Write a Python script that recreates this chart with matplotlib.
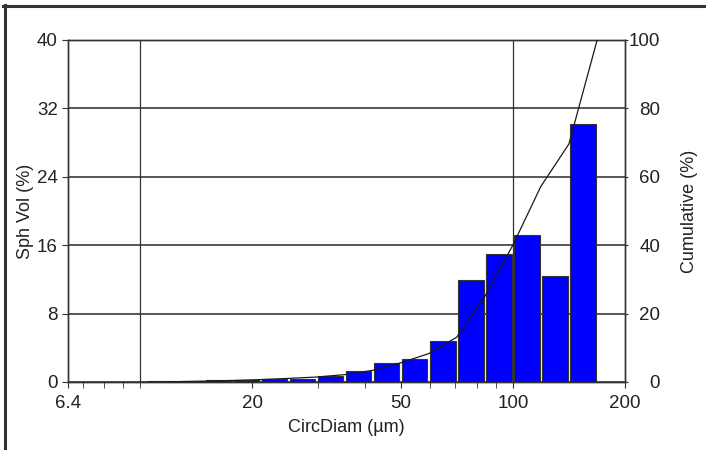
import numpy as np
import matplotlib
matplotlib.use("Agg")
import matplotlib.pyplot as plt
from matplotlib.lines import Line2D
from matplotlib.ticker import NullFormatter

plt.rcParams['font.family'] = ['Liberation Sans', 'DejaVu Sans']

# bin edges (um) and spherical volume per bin (%)
bin_edges = [10.51, 12.5, 14.87, 17.68, 21.02, 25.0, 29.73, 35.36, 42.04,
             50.0, 59.46, 70.71, 84.09, 100.0, 118.92, 141.42, 168.18]
sph_vol = [0.1, 0.15, 0.2, 0.25, 0.35, 0.4, 0.7, 1.25, 2.2,
           2.7, 4.8, 11.9, 15.0, 17.2, 12.4, 30.2]

x_major = [6.4, 20, 50, 100, 200]
x_major_labels = ["6.4", "20", "50", "100", "200"]
x_minor = [7, 8, 9, 10, 30, 40, 60, 70, 80, 90]
y_left_ticks = [0, 8, 16, 24, 32, 40]
y_right_ticks = [0, 20, 40, 60, 80, 100]

dark = "#333333"
inset = 1.0075  # small white gap between bars

fig = plt.figure(figsize=(7.06, 4.5), dpi=100)
ax = fig.add_axes([68/706, 1-382/450, 557/706, 342/450])
ax.set_xscale('log')

lefts = np.array(bin_edges[:-1]) * inset
rights = np.array(bin_edges[1:]) / inset
ax.bar(lefts, sph_vol, width=rights-lefts, align='edge', color='#0000FF',
       edgecolor=dark, linewidth=0.8, zorder=2)

ax.set_xlim(6.4, 200)
ax.set_ylim(0, 40)
ax.set_xticks(x_major, labels=x_major_labels)
ax.set_xticks(x_minor, minor=True)
ax.xaxis.set_minor_formatter(NullFormatter())
ax.set_yticks(y_left_ticks)
ax.set_axisbelow(True)
ax.yaxis.grid(True, color='#2a2a2a', linewidth=1.1)
for xv in [10, 100]:
    ax.axvline(xv, color=dark, linewidth=0.9, zorder=0.5)

ax.tick_params(axis='both', which='both', direction='out', color=dark,
               labelsize=13.5, labelcolor='#222222')
ax.tick_params(axis='x', which='both', length=4.3, pad=5)
ax.tick_params(axis='y', length=4.3, pad=3)
for sp in ax.spines.values():
    sp.set_color(dark)
    sp.set_linewidth(1.0)

ax.set_xlabel("CircDiam (µm)", fontsize=13, color='#222222')
ax.xaxis.set_label_coords(0.5, -0.1345)
ax.xaxis.label.set_va('center')
ax.set_ylabel("Sph Vol (%)", fontsize=13, color='#222222')
ax.yaxis.set_label_coords(-0.077, 0.5)
ax.yaxis.label.set_va('center')

# cumulative curve on the right axis
ax2 = ax.twinx()
cum = np.concatenate([[0], np.cumsum(sph_vol)])
ax2.plot(bin_edges, cum, color='#1a1a1a', linewidth=0.9, zorder=3)
ax2.set_ylim(0, 100)
ax2.set_yticks(y_right_ticks)
ax2.tick_params(axis='y', direction='out', length=2.2, color=dark,
                labelsize=13.5, labelcolor='#222222', pad=23)
for lab in ax2.get_yticklabels():
    lab.set_horizontalalignment('right')
for sp in ax2.spines.values():
    sp.set_color(dark)
    sp.set_linewidth(1.0)
ax2.set_ylabel("Cumulative (%)", fontsize=13, color='#222222')
ax2.yaxis.set_label_coords(1.115, 0.5)
ax2.yaxis.label.set_va('center')

# outer frame (top and left edges)
fig.add_artist(Line2D([3/706, 1], [1-6/450, 1-6/450], color=dark, linewidth=2.2,
                      transform=fig.transFigure))
fig.add_artist(Line2D([4.5/706, 4.5/706], [0, 1-5/450], color=dark, linewidth=2.2,
                      transform=fig.transFigure))

fig.savefig("out.png", dpi=100)
